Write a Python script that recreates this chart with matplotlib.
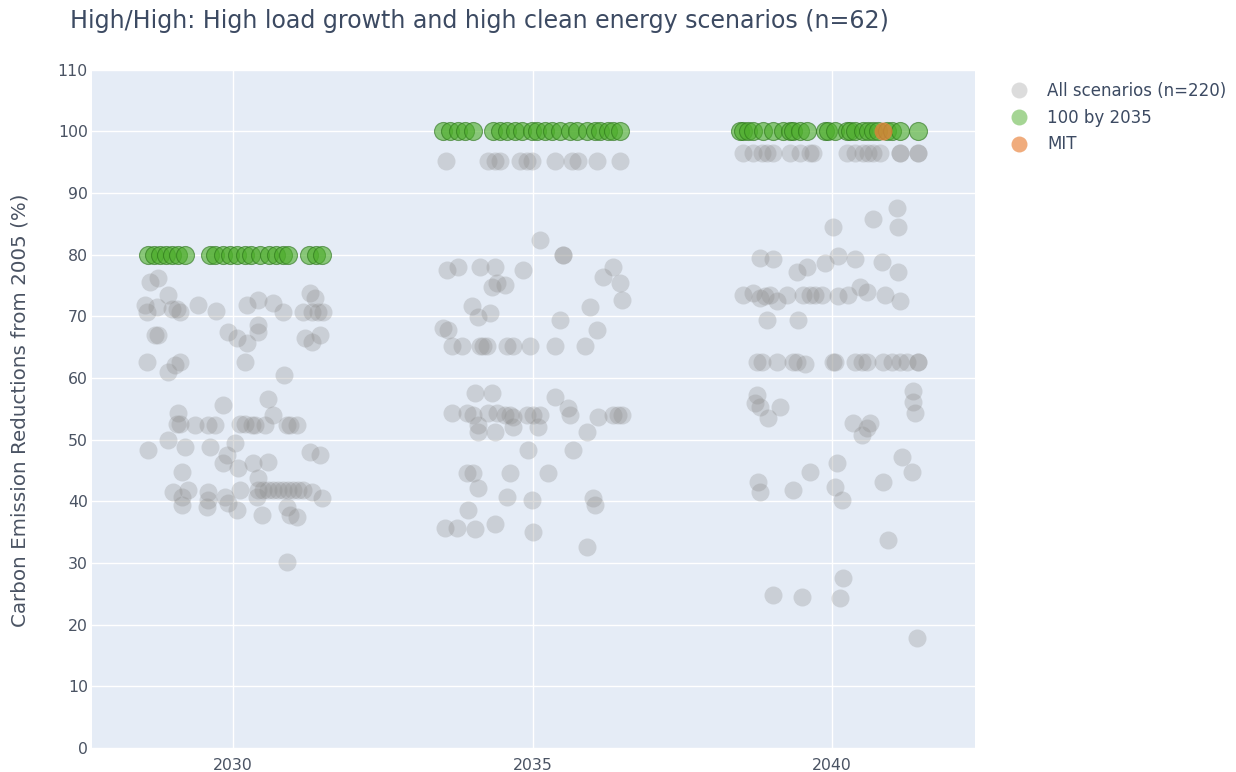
import matplotlib
matplotlib.use("Agg")
import matplotlib.pyplot as plt
from matplotlib.lines import Line2D
import numpy as np

# ---------------------------------------------------------------------------
# Data: carbon emission reductions from 2005 (%), per target year.
# Each point carries its horizontal strip jitter (in years) next to its value.
# ---------------------------------------------------------------------------
years = [2030, 2035, 2040]
year_labels = ["2030", "2035", "2040"]

# All scenarios (grey)
all_2030_jitter = [
    -1.39, -1.25, -1.09, -1.47, -1.44, -1.27, -1.02, -0.93, -0.88, -0.58, -0.28, 0.23, 0.42, 0.67,
    0.83, 1.17, 1.32, 1.42, 1.50, 1.29, 1.37,
    -1.30, -1.25, -0.08, 0.07, 0.23, 0.42, 0.42, 1.20, 1.32, 1.45,
    -1.44, -1.09, -0.97, -0.88, 0.20, 0.85,
    -0.17, 0.58, 0.67,
    -0.92, -0.93, -0.88, -0.63, -0.42, -0.30, 0.12, 0.20, 0.32, 0.37, 0.53, 0.90, 0.95, 1.07,
    -1.42, -1.09, -0.80, -0.38, -0.10, 0.03, -0.17, 0.08, 0.33, 0.58, 0.42, 1.29, 1.45,
    -0.85,
    -1.00, -0.85, -0.75, -0.85, -0.42, -0.42, -0.43, -0.13, -0.08, 0.07, 0.12,
    0.42, 0.50, 0.58, 0.67, 0.75, 0.83, 0.92, 1.00, 1.09, 1.17, 1.32,
    0.40, 1.49, 0.48, 0.90, 0.95, 1.07, 0.90,
]
all_2030_value = [
    75.6, 76.2, 73.5, 71.9, 70.7, 71.5, 71.1, 71.1, 70.7, 71.9, 70.9, 71.9, 72.7, 72.2,
    70.7, 70.7, 70.7, 70.7, 70.7, 73.8, 73.0,
    67.0, 67.0, 67.5, 66.5, 65.7, 68.6, 67.5, 66.5, 65.9, 67.0,
    62.6, 61.0, 62.1, 62.6, 62.5, 60.5,
    55.6, 56.5, 54.0,
    54.3, 52.6, 52.6, 52.4, 52.4, 52.4, 52.6, 52.6, 52.4, 52.4, 52.4, 52.4, 52.4, 52.4,
    48.3, 50.0, 48.8, 48.8, 47.5, 49.5, 46.2, 45.4, 46.2, 46.4, 43.8, 48.0, 47.5,
    44.8,
    41.5, 40.7, 41.9, 39.4, 41.5, 40.2, 39.1, 40.7, 39.7, 38.6, 41.9,
    41.9, 41.9, 41.9, 41.9, 41.9, 41.9, 41.9, 41.9, 41.9, 41.9, 41.5,
    40.7, 40.6, 37.8, 39.1, 37.8, 37.5, 30.2,
]

all_2035_jitter = [
    -1.44, -0.74, -0.63, -0.54, -0.21, -0.09, -0.01, 0.38, 0.66, 0.76, 1.08, 1.46,
    0.13, 0.51, 0.51, -1.43, -1.24, -0.88, -0.63, -0.16, -0.59, -0.68, -0.46, 1.34, 1.18, 1.46,
    1.49, -1.01, 0.96, -0.71, -0.91, -1.49, -1.41, 0.46, 1.08,
    -1.34, -1.18, -0.88, -0.83, -0.76, -0.43, -0.33, -0.04, 0.38, 0.88,
    -0.96, -0.68, 0.38, 0.59,
    -1.34, -1.09, -0.99, -0.74, -0.59, -0.46, -0.38, -0.33, -0.09, 0.01, 0.13, 0.63, 1.09, 1.34,
    1.43, 1.49,
    -0.91, -0.91, -0.63, -0.33, 0.09, 0.91, -0.08, 0.68,
    -1.09, -0.99, -0.38, 0.26, -0.91, -0.43, -0.01, 1.01, 1.04, -1.08,
    -1.46, -1.26, -0.96, -0.63, 0.01, 0.91,
]
all_2035_value = [
    95.1, 95.1, 95.1, 95.1, 95.1, 95.1, 95.1, 95.1, 95.1, 95.1, 95.1, 95.1,
    82.4, 80.0, 80.0, 77.5, 78.0, 78.0, 77.9, 77.5, 75.4, 74.8, 75.1, 78.0, 76.4, 75.4,
    72.7, 71.7, 71.5, 70.5, 69.9, 68.1, 67.8, 69.4, 67.8,
    65.1, 65.1, 65.1, 65.1, 65.1, 65.1, 65.1, 65.1, 65.1, 65.1,
    57.6, 57.6, 56.9, 55.2,
    54.3, 54.3, 54.0, 54.3, 54.3, 54.0, 54.0, 53.7, 54.0, 54.0, 54.0, 54.0, 53.7, 54.0,
    54.0, 54.0,
    52.4, 51.3, 51.3, 52.1, 52.1, 51.3, 48.3, 48.3,
    44.6, 44.6, 44.6, 44.6, 42.2, 40.7, 40.2, 40.6, 39.4, 38.6,
    35.7, 35.7, 35.5, 36.3, 35.0, 32.6,
]

all_2040_jitter = [
    -1.49, -1.32, -1.17, -1.09, -0.98, -0.70, -0.53, -0.37, -0.32, 0.25, 0.38, 0.52, 0.60, 0.68,
    0.80, 1.14, 1.14, 1.44, 1.44,
    1.09, 0.68, 1.10, 0.02,
    -1.20, -0.98, -0.58, -0.42, -0.12, 0.10, 0.38, 0.83, 1.10,
    -1.49, -1.32, -1.20, -1.12, -1.04, -0.75, -0.92, -0.48, -0.37, -0.28, -0.17, 0.10, 0.27,
    0.47, 0.58, 0.88, 1.14,
    -1.09, -0.57,
    -1.25, -1.17, -0.92, -0.65, -0.58, -0.45, 0.02, 0.05, 0.38, 0.50, 0.58, 0.85, 1.00, 1.14,
    1.25, 1.44, 1.44,
    -1.25, -1.29, -1.20, -0.87, -1.07, 1.35, 1.35, 1.39, 0.35, 0.63, 0.58, 0.50,
    1.17, 1.34, -0.37, 0.08, 0.05, 0.17, -1.24, -1.20, -0.65, 0.85,
    0.93, 0.18, 0.13, -0.98, -0.50, 1.42,
]
all_2040_value = [
    96.5, 96.5, 96.5, 96.5, 96.5, 96.5, 96.5, 96.5, 96.5, 96.5, 96.5, 96.5, 96.5, 96.5,
    96.5, 96.5, 96.5, 96.5, 96.5,
    87.6, 85.7, 84.5, 84.5,
    79.5, 79.2, 77.1, 77.9, 78.7, 79.7, 79.2, 78.8, 77.2,
    73.5, 73.8, 73.0, 73.2, 73.5, 73.5, 72.4, 73.5, 73.5, 73.5, 73.5, 73.2, 73.5,
    74.8, 74.0, 73.5, 72.4,
    69.4, 69.4,
    62.5, 62.5, 62.5, 62.5, 62.5, 62.2, 62.6, 62.5, 62.5, 62.5, 62.5, 62.5, 62.5, 62.5,
    62.5, 62.5, 62.5,
    57.3, 56.0, 55.3, 55.3, 53.5, 57.8, 56.1, 54.3, 52.7, 52.7, 51.9, 50.8,
    47.2, 44.8, 44.8, 46.2, 42.3, 40.2, 43.2, 41.5, 41.9, 43.2,
    33.7, 27.6, 24.3, 24.8, 24.5, 17.8,
]

# 100 by 2035 (green)
clean_2030_jitter = [-1.42, -1.32, -1.22, -1.12, -1.02, -0.92, -0.80, -0.38, -0.30, -0.17, -0.05,
                     0.07, 0.20, 0.30, 0.45, 0.60, 0.72, 0.83, 0.92, 1.27, 1.38, 1.49]
clean_2030_value = [80.0] * len(clean_2030_jitter)

clean_2035_jitter = [-1.49, -1.38, -1.24, -1.13, -0.99, -0.66, -0.54, -0.43, -0.29, -0.18, -0.01,
                     0.08, 0.21, 0.33, 0.46, 0.63, 0.74, 0.91, 1.04, 1.13, 1.26, 1.34, 1.46]
clean_2035_value = [100.0] * len(clean_2035_jitter)

clean_2040_jitter = [-1.54, -1.49, -1.40, -1.32, -1.15, -0.98, -0.82, -0.70, -0.65, -0.53, -0.42,
                     -0.12, -0.07, 0.05, 0.25, 0.30, 0.38, 0.52, 0.60, 0.68, 0.77, 0.92, 1.00,
                     1.14, 1.44]
clean_2040_value = [100.0] * len(clean_2040_jitter)

# MIT (orange)
mit_year = 2040
mit_jitter = [0.85]
mit_value = [100.0]

legend_labels = ["All scenarios (n=220)", "100 by 2035", "MIT"]
title_text = "High/High: High load growth and high clean energy scenarios (n=62)"
ylabel_text = "Carbon Emission Reductions from 2005 (%)"

# ---------------------------------------------------------------------------
# Styling
# ---------------------------------------------------------------------------
plt.rcParams["font.family"] = ["DejaVu Sans"]

BG = "#E5ECF6"
TEXT = "#3c4a62"
TICK = "#4a5363"
GREY = (0.55, 0.55, 0.55, 0.30)
GREEN = (0.30, 0.68, 0.17, 0.62)
GREEN_EDGE = (0.17, 0.45, 0.10, 0.60)
ORANGE = (0.91, 0.50, 0.22, 0.75)
GREEN_LEG = (0.30, 0.68, 0.17, 0.50)
ORANGE_LEG = (0.91, 0.50, 0.22, 0.65)
MARKER_S = 168

W, H = 1236, 772
fig = plt.figure(figsize=(W / 100, H / 100), dpi=100)
fig.patch.set_facecolor("white")

ax = fig.add_axes([92 / W, 1 - 748 / H, (975 - 92) / W, (748 - 69.5) / H])
ax.set_facecolor(BG)
for sp in ax.spines.values():
    sp.set_visible(False)

ax.set_xlim(2027.646, 2042.387)
ax.set_ylim(0, 110)
ax.set_xticks(years)
ax.set_xticklabels(year_labels)
ax.set_yticks(np.arange(0, 111, 10))
ax.grid(True, color="white", linewidth=1.0)
ax.set_axisbelow(True)
ax.tick_params(axis="both", length=0, labelsize=11.3, colors=TICK)
ax.tick_params(axis="y", pad=3)
ax.tick_params(axis="x", pad=7)


def strip_x(year, jitter):
    return [year + j for j in jitter]


all_sets = [(2030, all_2030_jitter, all_2030_value),
            (2035, all_2035_jitter, all_2035_value),
            (2040, all_2040_jitter, all_2040_value)]
clean_sets = [(2030, clean_2030_jitter, clean_2030_value),
              (2035, clean_2035_jitter, clean_2035_value),
              (2040, clean_2040_jitter, clean_2040_value)]

for yr, jit, val in all_sets:
    ax.scatter(strip_x(yr, jit), val, s=MARKER_S, color=GREY, linewidths=0, zorder=2)
for yr, jit, val in clean_sets:
    ax.scatter(strip_x(yr, jit), val, s=MARKER_S, facecolor=GREEN, edgecolor=GREEN_EDGE,
               linewidths=0.8, zorder=3)
ax.scatter(strip_x(mit_year, mit_jitter), mit_value, s=MARKER_S, color=ORANGE,
           linewidths=0, zorder=4)

# Title and axis label
fig.text(70 / W, 1 - 21 / H, title_text, fontsize=17.1, color=TEXT, ha="left", va="center")
fig.text(20 / W, 1 - 410 / H, ylabel_text, fontsize=14.3, color=TICK, rotation=90,
         ha="center", va="center")

# Legend
handles = [
    Line2D([], [], linestyle="none", marker="o", markersize=11.5, markerfacecolor=GREY,
           markeredgewidth=0),
    Line2D([], [], linestyle="none", marker="o", markersize=11.5, markerfacecolor=GREEN_LEG,
           markeredgewidth=0),
    Line2D([], [], linestyle="none", marker="o", markersize=11.5, markerfacecolor=ORANGE_LEG,
           markeredgewidth=0),
]
leg = fig.legend(handles, legend_labels, loc="upper left",
                 bbox_to_anchor=(1009 / W, 1 - 82 / H), frameon=False,
                 fontsize=12, labelspacing=0.52, handletextpad=1.08, borderpad=0,
                 handlelength=1.2, borderaxespad=0)
for t in leg.get_texts():
    t.set_color(TEXT)

fig.savefig("out.png", dpi=100)
